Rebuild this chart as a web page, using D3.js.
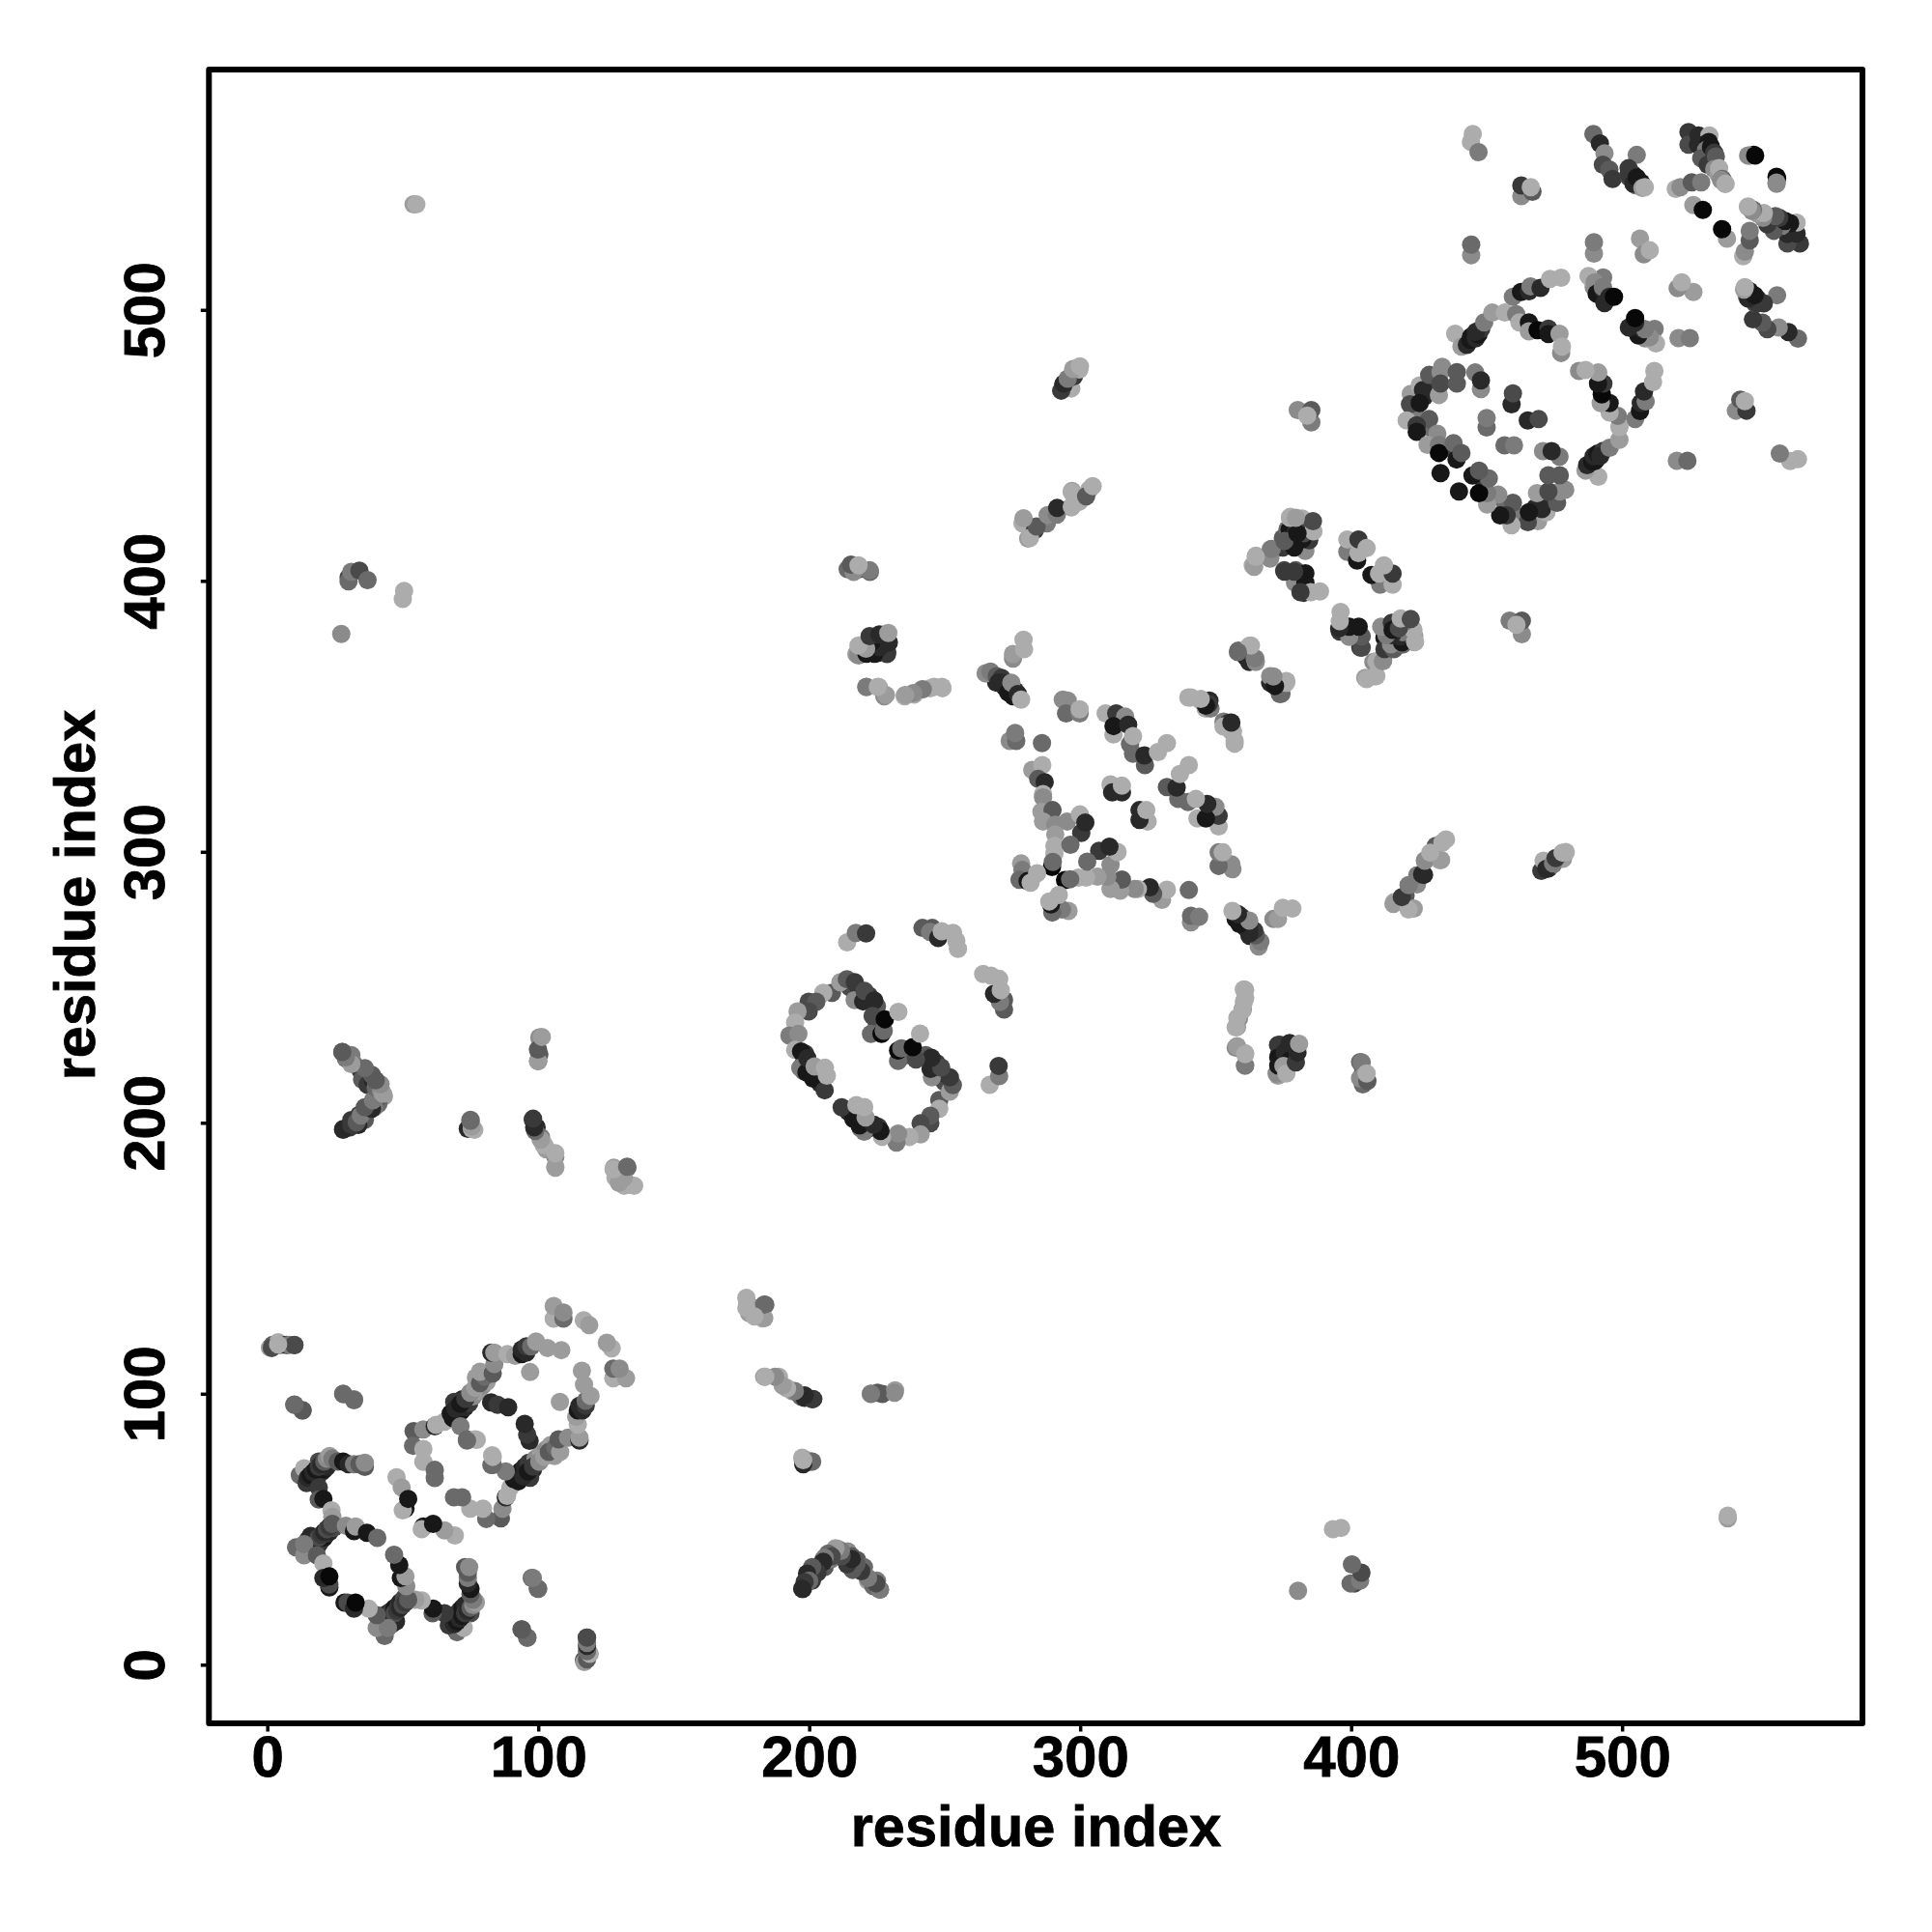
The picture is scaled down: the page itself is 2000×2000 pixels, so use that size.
<!DOCTYPE html>
<html>
<head>
<meta charset="utf-8">
<script src="https://cdn.jsdelivr.net/npm/d3@7"></script>
<style>html,body{margin:0;padding:0;background:#fff}</style>
</head>
<body>
<svg id="chart" width="2000" height="2000"></svg>
<script>
// Each contact: [residue a, residue b, shade level 0 (black) .. 10 (light grey)]
const nTermTail = [[1,117,9],[2,118,5],[4,119,10],[5,118,6],[7,118,2],[8,118,7],[10,118,4],[10,96,6],[13,94,5],[28,100,6],[32,98,7]];
const upperArcUnder = [[17,68,2],[18.5,69.5,1],[20,71,3],[21,72,1],[22,73,2],[14.5,70,2],[19,75,4]];
const upperArc = [[12,70,6],[13.6,72.5,10],[14.5,67,3],[15,69,2],[16,70,1],[17,71,2],[18,72,1],[19,73,3],[20,74,2],[21,75,5],[22,76,8],[23,77,9],[24,76,7],[26,75,5],[28,75,1],[30,74,2],[32,74,7],[34,74,5],[36,73,5],[36,74.5,8]];
const midArc = [[19,65.4,3],[19,61,5],[20.7,61.2,1],[23.7,57,10],[24,54.6,9]];
const lowerStreakUnder = [[18,43,3],[19,44.5,2],[20,46,3],[21,47,1],[22,48.5,3],[23,49,2],[24.5,50.5,4],[15,46,3],[16,47.5,2]];
const lowerStreak = [[16,44,4],[17,45,3],[18,46,2],[19,47,4],[20,48,3],[21,49,2],[22,50,4],[23,51,3],[24,52,5],[29,51.3,8],[32,49.3,1],[32.6,51,9],[36.8,48.7,1],[40.6,46.8,6]];
const lowerEnd = [[10.6,43.3,6],[13.6,40.4,8],[13.6,44.5,7],[18.3,40.4,5],[20.7,37.4,10],[22.9,28.5,1],[22.9,29.6,4],[20.7,32,2],[22.9,32.6,0]];
const strandLoop = [[51,57.6,1],[50,57,10],[47.7,69.2,10],[49.6,65.4,9],[52,61.2,1],[54,86.2,5],[53.8,80.8,6],[57.6,86.8,8],[61.8,88,2],[62.3,88.5,10],[65.4,89.7,10],[57.6,79.6,10],[57.6,74.9,10],[61.8,71.9,6],[61.8,68.9,6]];
const strandMainUnder = [[68.5,91,1],[70,92,2],[71.5,93.5,1],[73,95,2],[74.5,96.5,3],[72,98,2],[69,97,3],[76,99,8],[78,101,9],[79.5,103,8],[81,104.5,9],[77,106,9]];
const strandMain = [[67.7,92.7,1],[69.5,94.5,2],[71.3,96.3,1],[73.1,98.1,3],[74.9,100.4,8],[76.7,102.2,9],[78.5,103.9,5],[80.2,106.3,6],[78.5,108.1,9],[83.2,107.5,5],[83.8,111,8],[82.7,115.2,2],[83.8,115.2,9],[88.6,114.6,10],[91.5,114,9],[93.9,114.6,1],[93.9,116.3,2],[95.6,115.2,2],[95.6,117.5,3],[97.4,117.5,6],[99.2,119.3,9],[103.4,116.9,9],[108.5,116.1,9],[97,108,9]];
const strandInner = [[71.3,88,7],[73.7,83.2,6],[76.7,83.2,10],[83,77.3,10],[82.7,73.7,6],[82.6,96.8,2],[85,95.9,3],[88.9,95,2]];
const strandTip = [[105.7,127.7,10],[105.7,132.4,9],[109.3,127.7,6],[109.3,130,8],[116.8,127.1,10],[118.8,125.3,9]];
const nTermPairs = [[97.6,32,6],[99.8,28.1,6],[93.8,13,5],[95.9,10,6],[116.9,1.7,4],[117.9,10,4],[118.2,4,10]];
const domainLinkA = [[197.7,28,2],[199.2,31,3],[201,31,3],[200.2,33,5],[202.7,34.5,7],[205.2,38.6,2],[205.7,36,5],[208.3,39,7],[213,40,6],[211.7,42,8],[210.7,42.7,9],[214.2,41.8,8],[215.7,40,5],[217.7,38.6,5],[220.2,36,6],[225,31,7],[221.7,31,9],[224.2,29,7],[226.1,27.7,5]];
const farPairs = [[54,539,9],[55,539,10],[27.3,380.4,8],[50,393.3,10],[50.5,396.3,10],[30,401.3,4],[30,399.8,6],[31,403.3,7],[34,403.8,4],[37,400.3,6]];
const domainLinkB = [[29,223.7,6],[27.7,226.1,7],[30,224.7,4],[32,221.7,7],[34.5,219.2,3],[35,216,5],[37,217.4,5],[37,214,3],[39,215.7,2],[40,212,4],[42,211.7,7],[43,209.7,9],[41,207,6],[40,208.3,4],[39.5,205.7,7],[38,205.2,2],[34,203,3],[36,201.1,5],[33.6,199.2,2],[31,200,6],[30.5,198.3,3],[28,197.4,2]];
const domainLinkC = [[75,201.1,6],[74,197.8,2],[75.5,197.8,10],[100.4,231.5,8],[100.4,225.2,5],[100,222.8,7],[98,201.1,3],[99.4,198.3,2],[101,194.7,7],[102,191.8,10],[103,190.2,9],[106.3,187.4,8],[106.3,183.8,10],[127.9,183.4,9],[132.9,183.4,6],[128.5,179.8,10],[131.7,176.8,10],[135.4,176.8,10]];
const domainLinkD = [[177.1,133.8,10],[177.8,129.8,9],[179.8,131.6,9],[182.8,127.8,10],[183.8,132.8,6],[183.4,106.3,9],[188.8,106.3,10],[191.8,102.2,10],[193.8,100.9,9],[197,98.9,6],[198.3,98.5,2],[201.5,98.1,3],[197.4,76.4,10],[198.7,75.5,9],[200.7,75,6],[222.7,99.9,9],[227,99.9,5],[231.7,101.3,9]];
const ringTopLink = [[214,266.6,10],[217.2,270.1,7],[221,269.9,3],[241.8,271.9,5],[245.4,271.9,5],[244.6,270.4,7],[247.6,268.2,2],[248.9,270.7,10],[253.1,270.1,10],[254.3,267.1,10],[254.9,264.2,10]];
const ringLeftUnder = [[198,222,2],[200.5,221,1],[198.5,225.5,3],[201,219,2],[203,218,1],[204,214.5,2],[198,219,6]];
const ringLeft = [[208.4,248,5],[205.2,248,10],[199.8,244.7,4],[202.6,244.7,5],[199.8,241.1,4],[195.7,241.1,9],[194.8,237,10],[192.7,232.2,7],[196,232.8,8],[194.8,226.9,10],[197,226.3,1],[196.7,220.3,7],[199,218.6,1],[199.3,223.8,2],[201.4,216.3,1],[202,220.8,9],[205.7,212,3],[205.8,220.3,10],[206.5,217.4,10]];
const ringTopUnder = [[215,250,4],[218.5,249,2],[222,247,3],[225,243,5],[225,236,5]];
const ringTop = [[211.5,251.9,9],[213.9,253,5],[216.8,245.3,8],[216.8,251.9,3],[219.9,244.8,2],[220.4,248.7,4],[224,245.1,2],[223.4,239.4,4],[222.8,232.8,6],[226.7,232.8,0],[227.5,234,6],[227.9,238.2,0],[232.9,240.9,10]];
const linkE = [[214.2,404.3,6],[216.7,403.8,7],[218.3,404.3,4],[222.4,403.3,6],[217.4,373,9],[222.4,373.9,7],[220.7,374.9,2],[223.3,378,1],[225.2,373.4,2],[228.7,373,3],[228.7,377.4,1],[228.3,380.4,10],[221.1,360.8,8],[225.7,360.8,10],[227.7,357.4,8],[235.2,357.4,10],[238.7,358,10],[241.5,359.9,10],[244.7,360.4,10],[249.2,360.4,10]];
const linkF = [[249,360.9,10],[246.1,360.9,10],[241.9,360,7],[238.4,358.6,8],[235.4,357.9,9]].map(d => [d[1],d[0],d[2]]);
const linkG = [[228.3,357.9,9],[221.1,360.9,7],[225.3,360.9,10],[228.8,373.7,3],[218.2,372.5,8],[221.1,373.1,1],[224.1,373.1,1],[226,375.5,2],[223,377.5,1],[221,375,9],[229.4,377.3,2],[218.2,376.1,10],[222.3,379.6,3],[225.9,380.2,2],[229.2,380.8,9],[222.3,403.9,7],[216.4,403.3,8],[215.4,406,5],[218.2,405.7,10]];
const centralA = [[268.5,364.5,6],[269,362.5,2],[272,361,2],[274.5,361,1],[276,359.5,3],[275.2,371.3,8],[275.2,373,9],[279.3,374.8,10],[279.1,378.3,10],[265.1,365.9,8],[266.9,366.5,7],[269.2,364.8,5],[271,364.2,3],[269.8,362.4,2],[271.2,362.4,2],[273.4,358.8,1],[275.2,357.4,1],[274.6,362.4,8],[277,358.2,2],[278.2,356.2,10]];
const centralB = [[293.6,356.2,8],[295.4,355.8,8],[294.8,351.1,6],[299.8,351.1,7],[299.8,352.6,10],[309.4,351.1,10],[313.3,351.1,3],[316.6,349.9,8],[312.3,343.3,10],[312.3,346.4,1],[317.7,346.9,2],[318.4,339.8,6],[319.5,336.2,6],[319.5,342.7,10],[323.9,332,5],[323.7,335.6,2],[328.7,336.8,10],[332,340.1,10]];
const centralC = [[274,340.9,8],[276.4,340.9,6],[276,343.9,7],[285.9,340.1,6],[282.3,330.2,9],[286,332,10],[284.5,326.9,5],[286.9,325.7,2],[286.3,321.3,10],[286.3,320.1,8],[285.7,314.8,9],[289.8,315.4,5],[286.3,311.2,9],[290.8,310,8],[295.2,311.2,8],[299.9,313.8,10],[300.4,307,3],[301.9,310.8,2],[290.8,306.4,9],[290.5,302.2,10],[296.4,302.6,6],[290.5,299.4,10],[289.6,294.4,0],[289.9,296.3,6]];
const centralD = [[278.2,295.7,9],[278.7,293.3,7],[277.6,289.7,6],[280.6,289.2,1],[284.1,292.1,10],[281.7,288.6,10],[311.2,324.9,10],[311.8,321.9,2],[315.4,321.9,2],[315.4,324.4,10]];
const centralE = [[339.9,357,10],[344.5,355.8,10],[346.3,352.9,10],[347.7,355.8,2],[352.9,348.1,7],[354.6,347.5,3],[353.9,346.4,1],[357,340.9,10],[356.4,344.5,10],[358.4,374.3,6],[362.4,376,10],[361.2,371.9,1],[364.7,371.3,8],[370.1,362.4,2],[370.1,364.8,8],[371.4,364.4,7],[376.1,363,10],[373.7,358.2,6]];
const centralF = [[395.8,381.3,3],[403.4,375.4,3],[403.4,379,3],[408.2,370.1,8],[411.8,370.7,7],[405.2,364.2,9],[408.8,364.8,10],[412.3,379,1],[414.7,375.4,5],[417.5,380.2,1],[423.3,377.4,10],[423.3,379.6,9],[415.9,281.5,10],[420.1,283.9,5],[423.1,279.1,9],[424.3,288,8],[424.4,291.4,7],[426.9,291.5,2],[427.3,296.9,10],[432.7,296.9,10],[431.2,302.2,5],[435,304.6,10]];
const linkH = [[470.2,293,3],[472.8,293.9,2],[474.6,295.4,7],[478.2,297.4,9],[479.2,299.9,10]];
const linkI = [[280.8,415.6,9],[278.7,421.2,10],[283.3,418.7,3],[287.7,421.2,7],[291.7,426.2,2],[296.7,427.2,8],[297,433.2,9],[299.7,429.2,10],[303.4,433.7,10],[296.7,471,10],[293.7,472,2],[295.7,474.5,7],[297.7,475.5,3],[299.7,478,10]];
const linkJ = [[380.3,463,8],[385.3,458.5,7],[385.3,463,5],[383.8,461,10]];
const domainTailA = [[444.2,562,10],[444.9,564.9,10],[447,558.2,7],[462.8,542,8],[462.8,545.9,3],[466.9,543.6,5],[466.3,545.3,10],[489.4,564.9,6],[491.8,561.4,2],[493.5,557.8,8],[492.9,553.6,4],[495.3,551.8,5],[496.5,548.3,3],[502.5,549,4],[504,550,2],[505,546,7],[507,547,1],[505.4,557.2,7],[502.4,552.3,3],[502.4,550,3],[504.2,546.5,2],[505.4,548.9,1],[507.5,545,9],[508.4,545.3,10]];
const domainTailB = [[524.5,565.6,3],[524.5,561,4],[528.2,564.4,2],[532.2,564.4,10],[528,561,2],[532,562,1],[531,559,7],[529.2,556,5],[532.8,560.2,1],[531.6,553.6,3],[534,558,3],[534.6,556.6,5],[534,552,8],[535.5,550,9],[535.8,552.3,10],[537,548.3,6],[536.5,548,8],[538,546.5,9],[538.2,546.5,10],[548.6,557.2,0],[547,557,8],[557,546.5,8],[557,549.1,0],[519.8,544.7,10],[521.5,545.3,8],[525.7,547.1,5],[529.2,547.1,7],[526.3,538.7,9],[529.8,536.9,0]];
const domainTailC = [[444.3,520.2,8],[444.3,524.1,6],[489.6,520.8,8],[489.6,525,7],[506.6,526.3,9],[508,520.5,8],[510.2,522,10],[489.5,508.5,8],[489,511,9],[492,510,6],[493,512,7],[487.6,512.5,10],[489.9,510.2,8],[490.6,506,1],[492.5,505,1],[493,507.5,2],[495,505,1],[492.9,508.4,7],[493.5,502.5,2],[495.3,504.8,2],[497,504.8,0]];
const ringLargeTop = [[459.7,504.8,7],[462.7,506.6,1],[465.6,506.9,2],[466.2,508.7,7],[469.9,508.1,2],[473.4,511.4,10],[477.5,511.9,10],[438.4,491.2,10],[440.7,486.5,9],[444.3,490.1,1],[442.7,487.1,2],[444,489,1],[446,489.5,2],[447,491,1],[448,493,3],[446.1,491.9,2],[449.1,495.4,7],[452.1,499,9],[456.7,499,10],[460.9,498.4,7],[462.1,495.4,10],[465.6,495.4,1],[465.6,492.1,9],[468.8,492.5,0],[472.8,493.1,3],[472.8,491.1,1],[476.9,491.2,9],[477.5,484.1,8],[477.8,486.5,10]];
const ringLargeMid = [[445.8,476.9,7],[447.9,470.8,8],[447.9,474,2],[459.2,465.2,2],[459.7,469.2,4],[450,456.6,6],[450,460.1,7]];
const ringLargeLeft = [[427,468,2],[431,471,3],[424,461,7],[428,457,6],[431,452,5],[435,449,9],[437,449,3],[422,469,9],[425.3,472.1,10],[426.5,470.4,2],[428.8,476,5],[433,477,8],[433.6,479,8],[432.4,468.6,9],[433,472.8,4],[439,472.8,5],[439,477,5],[421.7,465.2,4],[425.3,465.6,1],[428.8,459.7,5],[420.5,459.2,10],[424.2,457.4,3],[424.2,455,1],[431.8,454.3,8],[428.2,450.2,9],[432.4,450.2,7],[432.4,447.2,0],[437.8,450.8,6],[438.9,444.8,1],[440.7,447.2,5],[433,439.8,1]];
const centerDomainA = [[363.7,405.7,10],[364.9,409.3,10],[370.3,409.3,10],[370.3,411.7,8],[374.8,412.3,3],[374.8,415.8,5],[376.5,419,6],[376.6,414.7,8],[377.3,418.8,1],[379.5,418,2],[381,419,7],[380,415,2],[380,413,7],[377.5,423.6,10],[381.9,423,10],[383.1,411.1,8],[384.5,415,3],[385,420,7],[381.9,415.3,1],[382.5,417.6,4],[386.1,418.3,10],[385.9,422,4]];
const centerDomainB = [[375.3,403.9,4],[379.5,403.9,5],[379.3,399.3,8],[383.1,402.8,1],[383.1,399.3,1],[382.5,395.6,2],[385.1,395.8,10],[388.5,396.1,10],[398.6,410.7,7],[398.6,415.3,10],[402.2,407.5,1],[402.7,410.3,10],[402.7,415.3,3],[405.7,412.1,10]];

const contactGroups = [nTermTail,upperArcUnder,upperArc,midArc,lowerStreakUnder,lowerStreak,lowerEnd,strandLoop,strandMainUnder,strandMain,strandInner,strandTip,nTermPairs,domainLinkA,farPairs,domainLinkB,domainLinkC,domainLinkD,ringTopLink,ringLeftUnder,ringLeft,ringTopUnder,ringTop,linkE,linkF,linkG,centralA,centralB,centralC,centralD,centralE,centralF,linkH,linkI,linkJ,domainTailA,domainTailB,domainTailC,ringLargeTop,ringLargeMid,ringLargeLeft,centerDomainA,centerDomainB];

const xTickValues = [0,100,200,300,400,500];
const yTickValues = [0,100,200,300,400,500];
const axisTitle = "residue index";

const frame = {left:216.3,right:1928,top:72,bottom:1784};
const x = d3.scaleLinear().domain([-21.53,588.7]).range([frame.left,frame.right]);
const y = d3.scaleLinear().domain([-21.64,588.7]).range([frame.bottom,frame.top]);
const shade = d3.scaleLinear().domain([0,10]).range([8,172]);
const grey = s => { const g = Math.round(shade(s)); return `rgb(${g},${g},${g})`; };

const svg = d3.select("#chart");
svg.append("rect").attr("width",2000).attr("height",2000).attr("fill","#fff");

const marks = [];
contactGroups.forEach(g => g.forEach(c => marks.push({a:c[0],b:c[1],s:c[2]})));
const plot = svg.append("g");
// Both triangles of the symmetric contact map.
plot.selectAll("circle.upper").data(marks).join("circle").attr("class","upper")
  .attr("cx",d=>x(d.a)).attr("cy",d=>y(d.b)).attr("r",9.5).attr("fill",d=>grey(d.s));
plot.selectAll("circle.lower").data(marks).join("circle").attr("class","lower")
  .attr("cx",d=>x(d.b)).attr("cy",d=>y(d.a)).attr("r",9.5).attr("fill",d=>grey(d.s));

const font = "'Liberation Sans', Arimo, Helvetica, sans-serif";
const xAxis = d3.axisBottom(x).tickValues(xTickValues).tickSize(8.5).tickPadding(3);
const yAxis = d3.axisLeft(y).tickValues(yTickValues).tickSize(8.5).tickPadding(3);
const gx = svg.append("g").attr("transform",`translate(0,${frame.bottom})`).call(xAxis);
const gy = svg.append("g").attr("transform",`translate(${frame.left},0)`).call(yAxis);
[gx,gy].forEach(g=>{
  g.select(".domain").remove();
  g.selectAll(".tick line").attr("stroke","#000").attr("stroke-width",3.5);
  g.selectAll(".tick text").attr("font-family",font).attr("font-weight","bold").attr("font-size",60).attr("fill","#000")
    .attr("stroke","#000").attr("stroke-width",0.8);
});
gx.selectAll(".tick text").attr("dy",null).attr("text-anchor","middle").attr("y",55);
gy.selectAll(".tick text").attr("dy",null).attr("x",null).attr("text-anchor","middle")
  .attr("transform","translate(-46.3,0) rotate(-90)").attr("y",0);

svg.append("rect").attr("x",frame.left).attr("y",frame.top)
  .attr("width",frame.right-frame.left).attr("height",frame.bottom-frame.top)
  .attr("fill","none").attr("stroke","#000").attr("stroke-width",6).attr("stroke-linejoin","round");

const titleStyle = s => s.attr("font-family",font).attr("font-weight","bold").attr("font-size",59.5).attr("fill","#000")
  .attr("stroke","#000").attr("stroke-width",0.8).attr("text-anchor","middle");
svg.append("text").text(axisTitle).attr("x",1072.5).attr("y",1910.5).call(titleStyle);
svg.append("text").text(axisTitle).attr("transform","translate(98,926.5) rotate(-90)").call(titleStyle);
</script>
</body>
</html>
